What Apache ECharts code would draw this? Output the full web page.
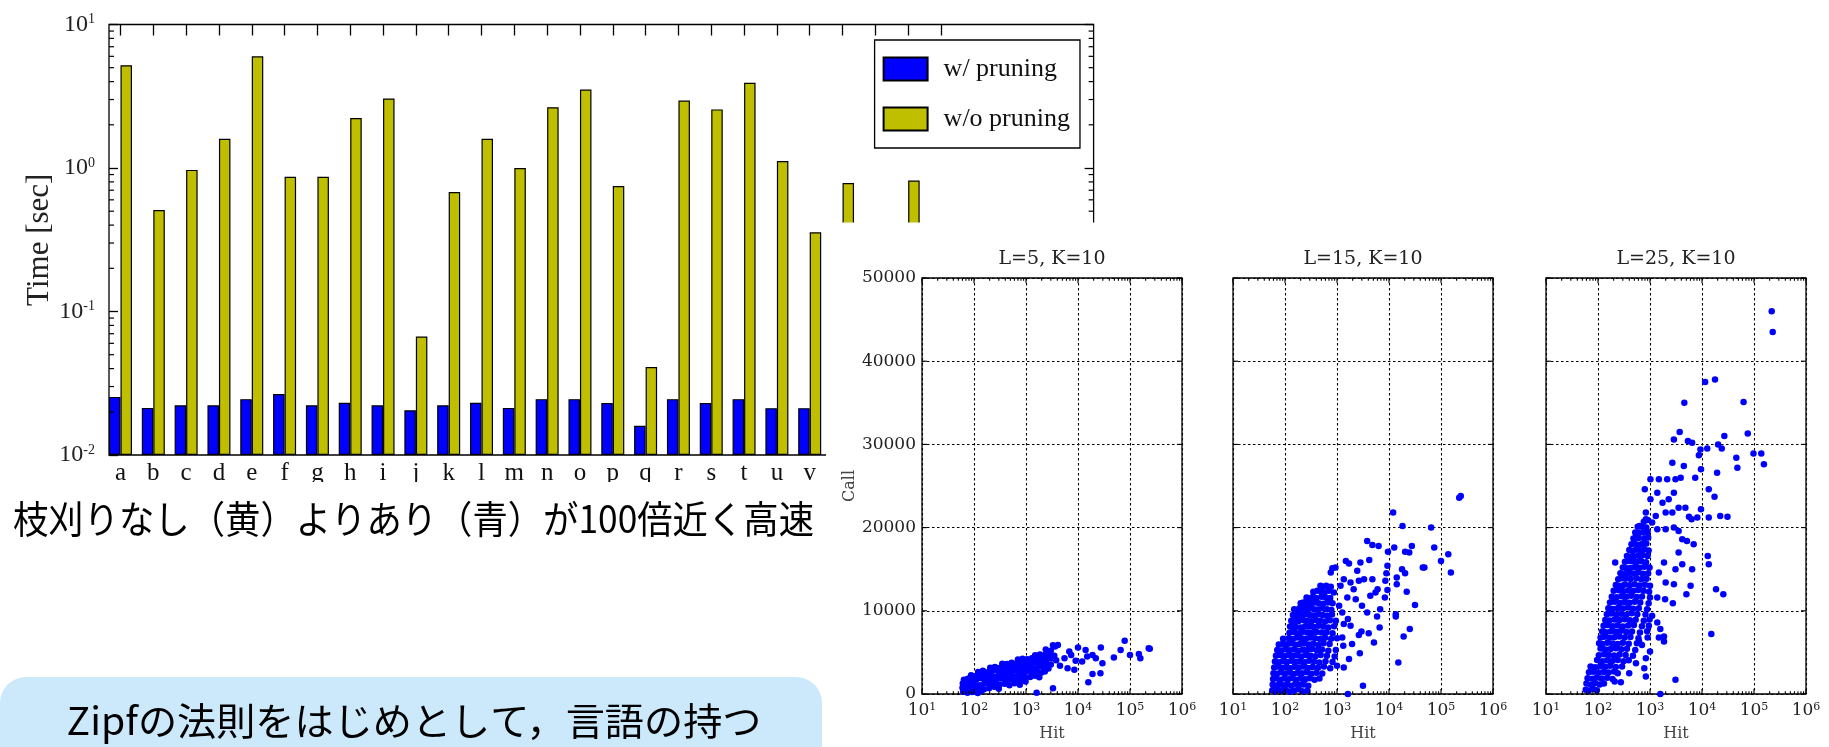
<!DOCTYPE html>
<html><head><meta charset="utf-8">
<script src="https://cdn.jsdelivr.net/npm/echarts@6/dist/echarts.min.js"></script>
<style>html,body{margin:0;padding:0;background:#fff;}#c{width:1829px;height:747px;}</style>
</head><body><div id="c"></div>
<script>
// ---------- bar chart data ----------
const categories = ['a','b','c','d','e','f','g','h','i','j','k','l','m','n','o','p','q','r','s','t','u','v','w','x','y','z'];
const padCategories = ['', '', '', ''];
const withPruning = [0.0254,0.0213,0.0222,0.0222,0.0245,0.0266,0.0222,0.0231,0.0222,0.0205,0.0222,0.0231,0.0213,0.0245,0.0245,0.0230,0.0160,0.0245,0.0230,0.0245,0.0212,0.0212,0.022,0.022,0.022,0.022];
const withoutPruning = [5.2,0.51,0.97,1.6,6.0,0.87,0.87,2.23,3.05,0.067,0.68,1.6,1.0,2.65,3.52,0.75,0.041,2.95,2.56,3.93,1.12,0.356,0.787,0.3,0.817,0.25];
const timeDecades = [0.01, 0.1, 1];
const minorMultipliers = [2,3,4,5,6,7,8,9];

// ---------- scatter data [Hit, Call] ----------
const panelTitles = ['L=5, K=10', 'L=15, K=10', 'L=25, K=10'];
const hitDecades = [10, 100, 1000, 10000, 100000, 1000000];
const callTicks = [0, 10000, 20000, 30000, 40000, 50000];

const hitCallL5 = [
[62,300],[75,150],[92,250],[118,120],[140,380],
[60,750],[70,600],[84,820],[102,650],[125,780],[155,560],[195,700],[245,880],[300,620],
[61,1250],[72,1100],[86,1320],[105,1150],[130,1050],[160,1280],[200,1180],[250,1350],[310,1100],[390,1220],[480,1050],[600,1300],[760,1120],
[64,1700],[76,1820],[92,1620],[112,1760],[138,1880],[170,1650],[212,1780],[265,1700],[330,1850],[415,1640],[520,1760],[650,1600],[820,1720],[980,1500],
[88,2250],[106,2120],[130,2300],[160,2180],[198,2260],[246,2080],[305,2320],[380,2150],[470,2280],[590,2100],[740,2240],[930,2150],[1200,2050],[1500,2200],[1800,2000],
[120,2650],[148,2780],[182,2600],[224,2750],[276,2820],[340,2640],[420,2760],[520,2680],[650,2800],[810,2620],[1000,2740],[1250,2660],[1550,2800],[1950,2550],[2300,2700],
[205,3150],[252,3250],[310,3120],[385,3280],[475,3180],[590,3300],[730,3140],[910,3260],[1130,3200],[1400,3100],[1750,3280],[2200,3150],[2700,3050],
[350,3650],[430,3600],[530,3750],[660,3680],[820,3780],[1020,3640],[1260,3720],[1560,3800],[1950,3600],[2400,3700],[3000,3550],
[700,4150],[860,4250],[1060,4180],[1300,4300],[1620,4100],[2000,4250],[2500,4150],[3100,4300],[3800,4050],
[1500,4650],[1850,4750],[2300,4700],[2850,4800],[3500,4600],
[2400,5350],[3000,5200],[3600,5700],[4100,5900],[3300,5850],
[3300,700],[6300,3100],[8500,2900],[5500,4300],[7400,4700],[6800,5100],[10000,5600],[14000,5300],[15000,4500],[19000,4700],
[27500,5600],[29500,3700],[19000,2400],[27000,2500],[15800,1400],[49000,4400],[66000,5300],[79000,6400],[100000,4700],[148000,4800],
[158000,4300],[229000,5500],[240000,5450],[1600,150],[4500,3400],[12000,3900],[9000,4000],[22000,4300]
];

const hitCallL15 = [
[57,450],[64,300],[74,520],[88,350],[104,480],[125,280],[150,420],[180,560],[215,330],
[58,1150],[66,980],[77,1200],[92,1050],[110,1180],[132,1000],[158,1220],[190,1080],[230,1150],[280,1000],
[59,1800],[68,1900],[80,1720],[96,1850],[115,1780],[138,1920],[165,1700],[200,1880],[245,1760],[300,1900],[370,1700],[460,1850],
[60,2500],[70,2420],[83,2600],[100,2450],[120,2580],[145,2400],[175,2550],[212,2480],[260,2620],[320,2420],[400,2560],[520,2450],
[62,3200],[73,3300],[87,3150],[105,3250],[126,3100],[152,3280],[184,3180],[225,3300],[275,3120],[340,3250],[430,3150],[560,3300],[740,3100],
[64,3900],[76,3820],[91,3980],[110,3850],[133,4000],[160,3880],[195,3950],[238,3820],[292,4000],[360,3900],[455,3800],[600,3950],[820,3850],
[67,4600],[80,4680],[96,4550],[116,4700],[140,4580],[170,4650],[207,4520],[252,4700],[310,4600],[385,4550],[485,4700],[640,4600],[900,4500],
[71,5300],[85,5220],[102,5380],[123,5250],[149,5350],[180,5200],[220,5320],[268,5280],[330,5400],[410,5250],[515,5350],[680,5200],[950,5300],
[76,5950],[91,6050],[110,5980],[132,6100],[160,5920],[193,6000],[235,6080],[287,5950],[352,6050],[440,5900],[550,6100],[720,6000],
[92,6650],[118,6700],[142,6620],[172,6780],[208,6700],[252,6650],[308,6800],[378,6700],[470,6600],[590,6750],[770,6650],[1000,6700],
[122,7350],[154,7420],[186,7300],[225,7480],[272,7400],[332,7350],[405,7450],[505,7380],[630,7420],[820,7300],
[125,8100],[140,8000],[160,8050],[202,8000],[244,8150],[295,8100],[358,8050],[440,8200],[545,8100],[680,8000],[880,8150],
[132,8800],[150,8700],[165,8900],[180,8750],[222,8880],[268,8800],[322,8750],[390,8900],[478,8800],[590,8700],[730,8850],[950,8800],
[142,9500],[160,9400],[180,9600],[196,9450],[215,9450],[250,9580],[300,9500],[360,9450],[435,9600],[530,9500],[650,9400],[800,9550],
[150,10200],[168,10100],[190,10300],[215,10150],[240,10250],[265,10150],[300,10300],[360,10200],[430,10150],[520,10300],[640,10200],[780,10100],
[200,10900],[225,11000],[250,10850],[280,10950],[320,10850],[372,11000],[445,10900],[540,10850],[660,11000],[820,10900],
[260,11600],[300,11500],[345,11700],[400,11550],[505,11700],[610,11600],[740,11550],
[350,12300],[420,12400],[500,12250],[570,12200],[690,12400],
[480,13000],[540,12900],[620,13000],[760,12900],
[3800,18400],[4790,17900],[6310,17800],[12000,21800],[18200,20200],[64600,20000],[224000,23600],[240000,23800],
[9550,17100],[12600,17600],[20400,17100],[27500,17800],[24500,17000],[74100,17600],[138000,16800],[100000,16000],
[155000,14600],[44700,15200],[47900,15200],[17800,15000],[20400,14500],[14100,14000],[14100,13200],[21900,12300],
[31600,10700],[13500,9600],[13500,9300],[25100,7800],[19100,6900],[15100,3800],[9330,15400],[8910,14500],
[8510,13600],[9330,12500],[8320,11600],[6030,12600],[6760,10200],[5890,9300],[6610,8000],[5130,6200],
[4070,7300],[2630,7100],[2950,7500],[1950,6000],[2750,4900],[1700,4200],[3160,1000],[1620,0],
[1320,5800],[1260,6800],[3020,10600],[3800,9800],[4370,11800],[5500,12200],[4790,13800],[3310,13800],
[2450,14800],[2820,15800],[4170,16100],[1700,15700],[1480,16000],[813,15100],[933,15200],[759,14600],
[871,12200],[1170,13000],[1350,13800],[1820,13400],[2090,12600],[2630,13600],[1580,11600],[2290,11400],
[1100,10600],[1350,8400],[1820,8200],[1620,9000],[1260,9800],[1350,3200],[1000,3400],[219,1200],[270,400]
];

const hitCallL25 = [
[58,520],[66,380],[80,600],[95,450],
[60,1250],[72,1100],[88,1300],[108,1150],[130,1250],
[63,1900],[78,1820],[95,1980],[118,1850],[150,1950],[190,1800],
[67,2600],[82,2680],[102,2550],[128,2650],[160,2580],[205,2700],[240,2500],
[72,3300],[88,3220],[110,3350],[138,3280],[172,3400],[220,3250],[290,3300],
[96,4080],[120,3950],[150,4050],[188,3980],[240,4100],[310,3950],[390,4050],
[104,4650],[130,4780],[162,4700],[204,4620],[260,4750],[340,4680],[470,4600],
[112,5480],[140,5350],[175,5420],[220,5500],[280,5380],[360,5450],[520,5300],
[105,6100],[122,6020],[152,6150],[190,6080],[238,6000],[300,6150],[390,6050],[560,6100],[700,5900],
[112,6800],[132,6880],[165,6750],[206,6820],[258,6900],[325,6780],[420,6850],[600,6700],[900,6800],
[120,7500],[142,7420],[178,7550],[222,7480],[278,7600],[350,7450],[450,7520],[640,7400],[880,7550],
[128,8200],[154,8280],[192,8150],[240,8250],[300,8100],[380,8220],[490,8300],[700,8150],[950,8200],
[138,8900],[166,8820],[208,8950],[260,8880],[325,8980],[410,8850],[530,8920],[760,8800],[980,8950],
[148,9600],[180,9680],[225,9550],[280,9650],[350,9520],[440,9700],[570,9600],[820,9550],
[158,10300],[194,10220],[242,10350],[302,10280],[378,10400],[475,10250],[610,10320],[880,10200],
[170,11000],[210,11080],[262,10950],[325,11050],[405,10980],[510,11100],[650,11000],[940,10900],
[184,11700],[226,11620],[282,11750],[350,11680],[438,11800],[550,11650],[700,11720],[1000,11600],
[200,12400],[250,12480],[306,12350],[380,12450],[470,12380],[590,12500],[750,12400],[960,12300],
[220,13100],[250,13000],[290,13020],[330,13150],[410,13080],[505,13200],[630,13050],[800,13120],[1000,13000],
[245,13800],[290,13900],[340,13880],[420,13820],[545,13900],[680,13780],[860,13850],
[270,14500],[320,14400],[385,14550],[475,14480],[585,14600],[730,14450],[920,14520],
[300,15200],[350,15100],[416,15150],[512,15250],[630,15180],[780,15300],[980,15200],
[330,15900],[380,16000],[450,15950],[550,15880],[675,16000],[840,15850],
[360,16600],[420,16500],[488,16550],[595,16620],[725,16700],[900,16580],
[400,17300],[460,17200],[530,17350],[645,17280],[780,17400],[940,17250],
[440,18000],[500,18100],[578,17950],[700,18020],[850,18100],
[480,18700],[530,18800],[600,18750],[770,18680],[920,18800],
[520,19400],[560,19300],[620,19350],[760,19420],[900,19480],
[580,20100],[630,20200],[700,20100],[850,20000],
[760,20700],[900,20900],
[219000,46000],[229000,43500],[11500,37500],[17800,37800],[4570,35000],[63000,35100],[3720,31500],[2880,30600],
[5370,30400],[6460,30200],[26900,31000],[75900,31300],[20400,30000],[24000,29500],[45700,28400],[47900,27200],
[97700,28900],[138000,28900],[155000,27600],[9330,29400],[12600,29500],[8710,28700],[9550,27000],[19500,26600],
[13500,24600],[17400,23700],[13500,21200],[22400,21400],[30900,21300],[9550,22200],[8130,21200],[6310,21000],
[5620,21300],[7410,26000],[4470,27400],[3890,26000],[2690,27800],[3090,25800],[2140,25800],[1480,25800],
[1020,25800],[794,24600],[1020,23400],[1380,24200],[1740,23000],[2290,23400],[2880,24200],[3550,22400],
[4790,22400],[2690,21800],[2000,21800],[1290,21400],[832,21800],[832,21000],[1100,20600],[1380,19800],
[2000,19800],[2880,20000],[3550,19600],[4170,18600],[5130,18400],[6920,18000],[3550,17000],[4170,15600],
[3090,15000],[6460,15000],[12900,16600],[13500,15600],[1860,15800],[1480,14600],[2000,13400],[2880,13200],
[6030,13000],[5010,12000],[2750,10900],[1950,11400],[1380,11600],[1100,9400],[1380,8600],[1580,7800],
[1860,6900],[1480,6800],[1860,6300],[18600,12600],[25700,12000],[15100,7200],[3090,1700],[1580,0],
[214,15800],[209,1500],[275,1400],[617,6300],[832,4300],[1000,5100],[776,3100],[537,3700],[398,2500],[832,2100]
];
const panelData = [hitCallL5, hitCallL15, hitCallL25];

// ---------- derived tick lists ----------
const timeMinorTicks = [];
timeDecades.forEach(d => minorMultipliers.forEach(m => timeMinorTicks.push(+(d * m).toPrecision(3))));
const hitTickItems = [];
hitDecades.slice(0, -1).forEach(d => minorMultipliers.forEach(m => hitTickItems.push([d * m, 0, 0])));
hitDecades.forEach(d => hitTickItems.push([d, 0, 1]));
callTicks.forEach(c => hitTickItems.push([10, c, 2]));

// ---------- layout ----------
const BW = 984.6 / 30;
const barTop = 24.5, barH = 430.5, frameLeft = 109;
const panelLefts = [922, 1233, 1546], panelTop = 278, panelW = 260, panelH = 418;
const serifBar = 'Liberation Serif', serifSc = 'DejaVu Serif', jp = 'Noto Sans CJK JP';

const supLabel = (size, sup, color) => ({
  b: {fontFamily: serifSc, fontSize: size, color: color},
  s: {fontFamily: serifSc, fontSize: sup, color: color, verticalAlign: 'top', lineHeight: size}
});
const expOf = v => Math.round(Math.log10(v));

const grids = [
  {left: frameLeft - 0.15 * BW, top: barTop, width: 30 * BW, height: barH, containLabel: false},
  {left: frameLeft, top: barTop, width: 30 * BW, height: barH, show: true, borderColor: '#000', borderWidth: 1.3, backgroundColor: 'transparent'}
];
const xAxes = [
  {type: 'category', gridIndex: 0, position: 'bottom', data: categories.concat(padCategories),
   axisLine: {show: false}, axisTick: {show: false},
   axisLabel: {interval: 0, margin: 6, fontFamily: serifBar, fontSize: 25, color: '#111'}},
  {type: 'category', gridIndex: 0, position: 'top', data: categories.concat(padCategories),
   axisLine: {show: false}, axisLabel: {show: false},
   axisTick: {show: true, inside: true, length: 11, alignWithLabel: true, interval: (i) => i < categories.length, lineStyle: {color: '#000', width: 1.3}}},
  {type: 'value', gridIndex: 1, min: 0, max: 1, show: false}
];
const yAxes = [
  {type: 'log', logBase: 10, gridIndex: 0, min: 0.01, max: 10, startValue: 0.01, show: false},
  {type: 'log', logBase: 10, gridIndex: 1, min: 0.01, max: 10, position: 'left',
   axisLine: {show: false}, splitLine: {show: false},
   axisTick: {show: true, inside: true, length: 9, lineStyle: {color: '#000', width: 1.3}},
   axisLabel: {margin: 14, formatter: v => '{b|10}{s|' + expOf(v) + '}',
     rich: {b: {fontFamily: serifBar, fontSize: 24, color: '#222'}, s: {fontFamily: serifBar, fontSize: 14, color: '#222', verticalAlign: 'top', lineHeight: 24}}},
   name: 'Time [sec]', nameLocation: 'middle', nameRotate: 90, nameGap: 54, nameMoveOverlap: false,
   nameTextStyle: {fontFamily: serifBar, fontSize: 31, color: '#222'}},
  {type: 'log', logBase: 10, gridIndex: 1, min: 0.01, max: 10, position: 'right',
   axisLine: {show: false}, splitLine: {show: false}, axisLabel: {show: false},
   axisTick: {show: true, inside: true, length: 9, lineStyle: {color: '#000', width: 1.3}}}
];
const series = [
  {name: 'w/ pruning', type: 'bar', xAxisIndex: 0, yAxisIndex: 0, data: withPruning, barWidth: 11.5, barGap: '0%',
   itemStyle: {color: '#0000ff', borderColor: '#000', borderWidth: 1.2}},
  {name: 'w/o pruning', type: 'bar', xAxisIndex: 0, yAxisIndex: 0, data: withoutPruning, barWidth: 11.5, barGap: '0%',
   itemStyle: {color: '#bfbf00', borderColor: '#000', borderWidth: 1.2}},
  {type: 'custom', xAxisIndex: 2, yAxisIndex: 1, silent: true, z: 3,
   data: timeMinorTicks.map(v => [0, v]),
   renderItem: (params, api) => {
     const v = api.value(1);
     const l = api.coord([0, v]), r = api.coord([1, v]);
     const st = {stroke: '#000', lineWidth: 1.2};
     return {type: 'group', children: [
       {type: 'line', shape: {x1: l[0], y1: l[1], x2: l[0] + 5, y2: l[1]}, style: st},
       {type: 'line', shape: {x1: r[0] - 5, y1: r[1], x2: r[0], y2: r[1]}, style: st}
     ]};
   }}
];

const dotted = {color: '#000', width: 1.1, type: [2.5, 2.5]};
const graphics = [];
// white backdrop of the scatter figure (it sits over the bar chart)
graphics.push({type: 'rect', zlevel: 1, z: 0, shape: {x: 826, y: 222.5, width: 1003, height: 525}, style: {fill: '#fff'}});
panelLefts.forEach((left, i) => {
  const gi = grids.length;
  grids.push({left: left, top: panelTop, width: panelW, height: panelH, show: true, borderColor: '#000', borderWidth: 1.3,
    backgroundColor: '#fff', zlevel: 1, z: 5});
  const xi = xAxes.length, yi = yAxes.length;
  xAxes.push({type: 'log', logBase: 10, gridIndex: gi, min: 10, max: 1000000, zlevel: 1, z: 6,
    axisLine: {show: false}, axisTick: {show: false},
    splitLine: {show: true, lineStyle: dotted},
    axisLabel: {margin: 8, showMinLabel: true, showMaxLabel: true, hideOverlap: false,
      formatter: v => '{b|10}{s|' + expOf(v) + '}', rich: supLabel(17, 11, '#222')},
    name: 'Hit', nameLocation: 'middle', nameGap: 32,
    nameTextStyle: {fontFamily: serifSc, fontSize: 16, color: '#444'}});
  yAxes.push({type: 'value', gridIndex: gi, min: 0, max: 50000, interval: 10000, zlevel: 1, z: 6,
    axisLine: {show: false}, axisTick: {show: false},
    splitLine: {show: true, lineStyle: dotted},
    axisLabel: {show: i === 0, margin: 6, fontFamily: serifSc, fontSize: 17, color: '#222', formatter: v => String(v)},
    name: i === 0 ? 'Call' : '', nameLocation: 'middle', nameRotate: 90, nameGap: 64,
    nameTextStyle: {fontFamily: serifSc, fontSize: 16, color: '#444'}});
  series.push({type: 'scatter', xAxisIndex: xi, yAxisIndex: yi, data: panelData[i], symbol: 'circle', symbolSize: 6.5,
    itemStyle: {color: '#0000ff', opacity: 1}, zlevel: 1, z: 8, silent: true});
  series.push({type: 'custom', xAxisIndex: xi, yAxisIndex: yi, data: hitTickItems, zlevel: 1, z: 9, silent: true,
    renderItem: (params, api) => {
      const kind = api.value(2);
      const st = {stroke: '#000', lineWidth: 1.1};
      if (kind === 2) {
        const c = api.value(1);
        const l = api.coord([10, c]), r = api.coord([1000000, c]);
        return {type: 'group', children: [
          {type: 'line', shape: {x1: l[0], y1: l[1], x2: l[0] + 5, y2: l[1]}, style: st},
          {type: 'line', shape: {x1: r[0] - 5, y1: r[1], x2: r[0], y2: r[1]}, style: st}]};
      }
      const h = api.value(0), len = kind === 1 ? 5 : 2.8;
      const b = api.coord([h, 0]), t = api.coord([h, 50000]);
      return {type: 'group', children: [
        {type: 'line', shape: {x1: b[0], y1: b[1], x2: b[0], y2: b[1] - len}, style: st},
        {type: 'line', shape: {x1: t[0], y1: t[1], x2: t[0], y2: t[1] + len}, style: st}]};
    }});
  graphics.push({type: 'text', zlevel: 1, z: 20, x: left + panelW / 2, y: panelTop - 19,
    style: {text: panelTitles[i], font: '19px "' + serifSc + '"', fill: '#222', align: 'center', verticalAlign: 'middle'}});
});

// bar chart image is cut just below the letter baseline
graphics.push({type: 'rect', z: 50, shape: {x: 95, y: 482, width: 731, height: 15}, style: {fill: '#fff'}});
// caption
graphics.push({type: 'text', z: 60, x: 13, y: 519, scaleX: 0.93,
  style: {text: '枝刈りなし（黄）よりあり（青）が100倍近く高速', font: '38px "' + jp + '"', fill: '#000', align: 'left', verticalAlign: 'middle'}});
// light blue box
graphics.push({type: 'rect', z: 40, shape: {x: 0, y: 677, width: 822, height: 90, r: [26, 26, 0, 0]}, style: {fill: '#cce9fb'}});
graphics.push({type: 'text', z: 60, x: 414, y: 721, scaleX: 1.03,
  style: {text: 'Zipfの法則をはじめとして，言語の持つ', font: '38px "' + jp + '"', fill: '#000', align: 'center', verticalAlign: 'middle'}});

const option = {
  animation: false,
  backgroundColor: '#fff',
  grid: grids, xAxis: xAxes, yAxis: yAxes, series: series,
  legend: {data: ['w/ pruning', 'w/o pruning'], orient: 'vertical', left: 874.6, top: 40,
    itemWidth: 44, itemHeight: 23, itemGap: 24, padding: [16, 10, 16, 8], icon: 'rect',
    backgroundColor: '#fff', borderColor: '#000', borderWidth: 1.3,
    textStyle: {fontFamily: serifBar, fontSize: 26, color: '#111', padding: [0, 0, 0, 11]}},
  graphic: graphics
};
const chart = echarts.init(document.getElementById('c'), null, {width: 1829, height: 747});
chart.setOption(option);
</script></body></html>
